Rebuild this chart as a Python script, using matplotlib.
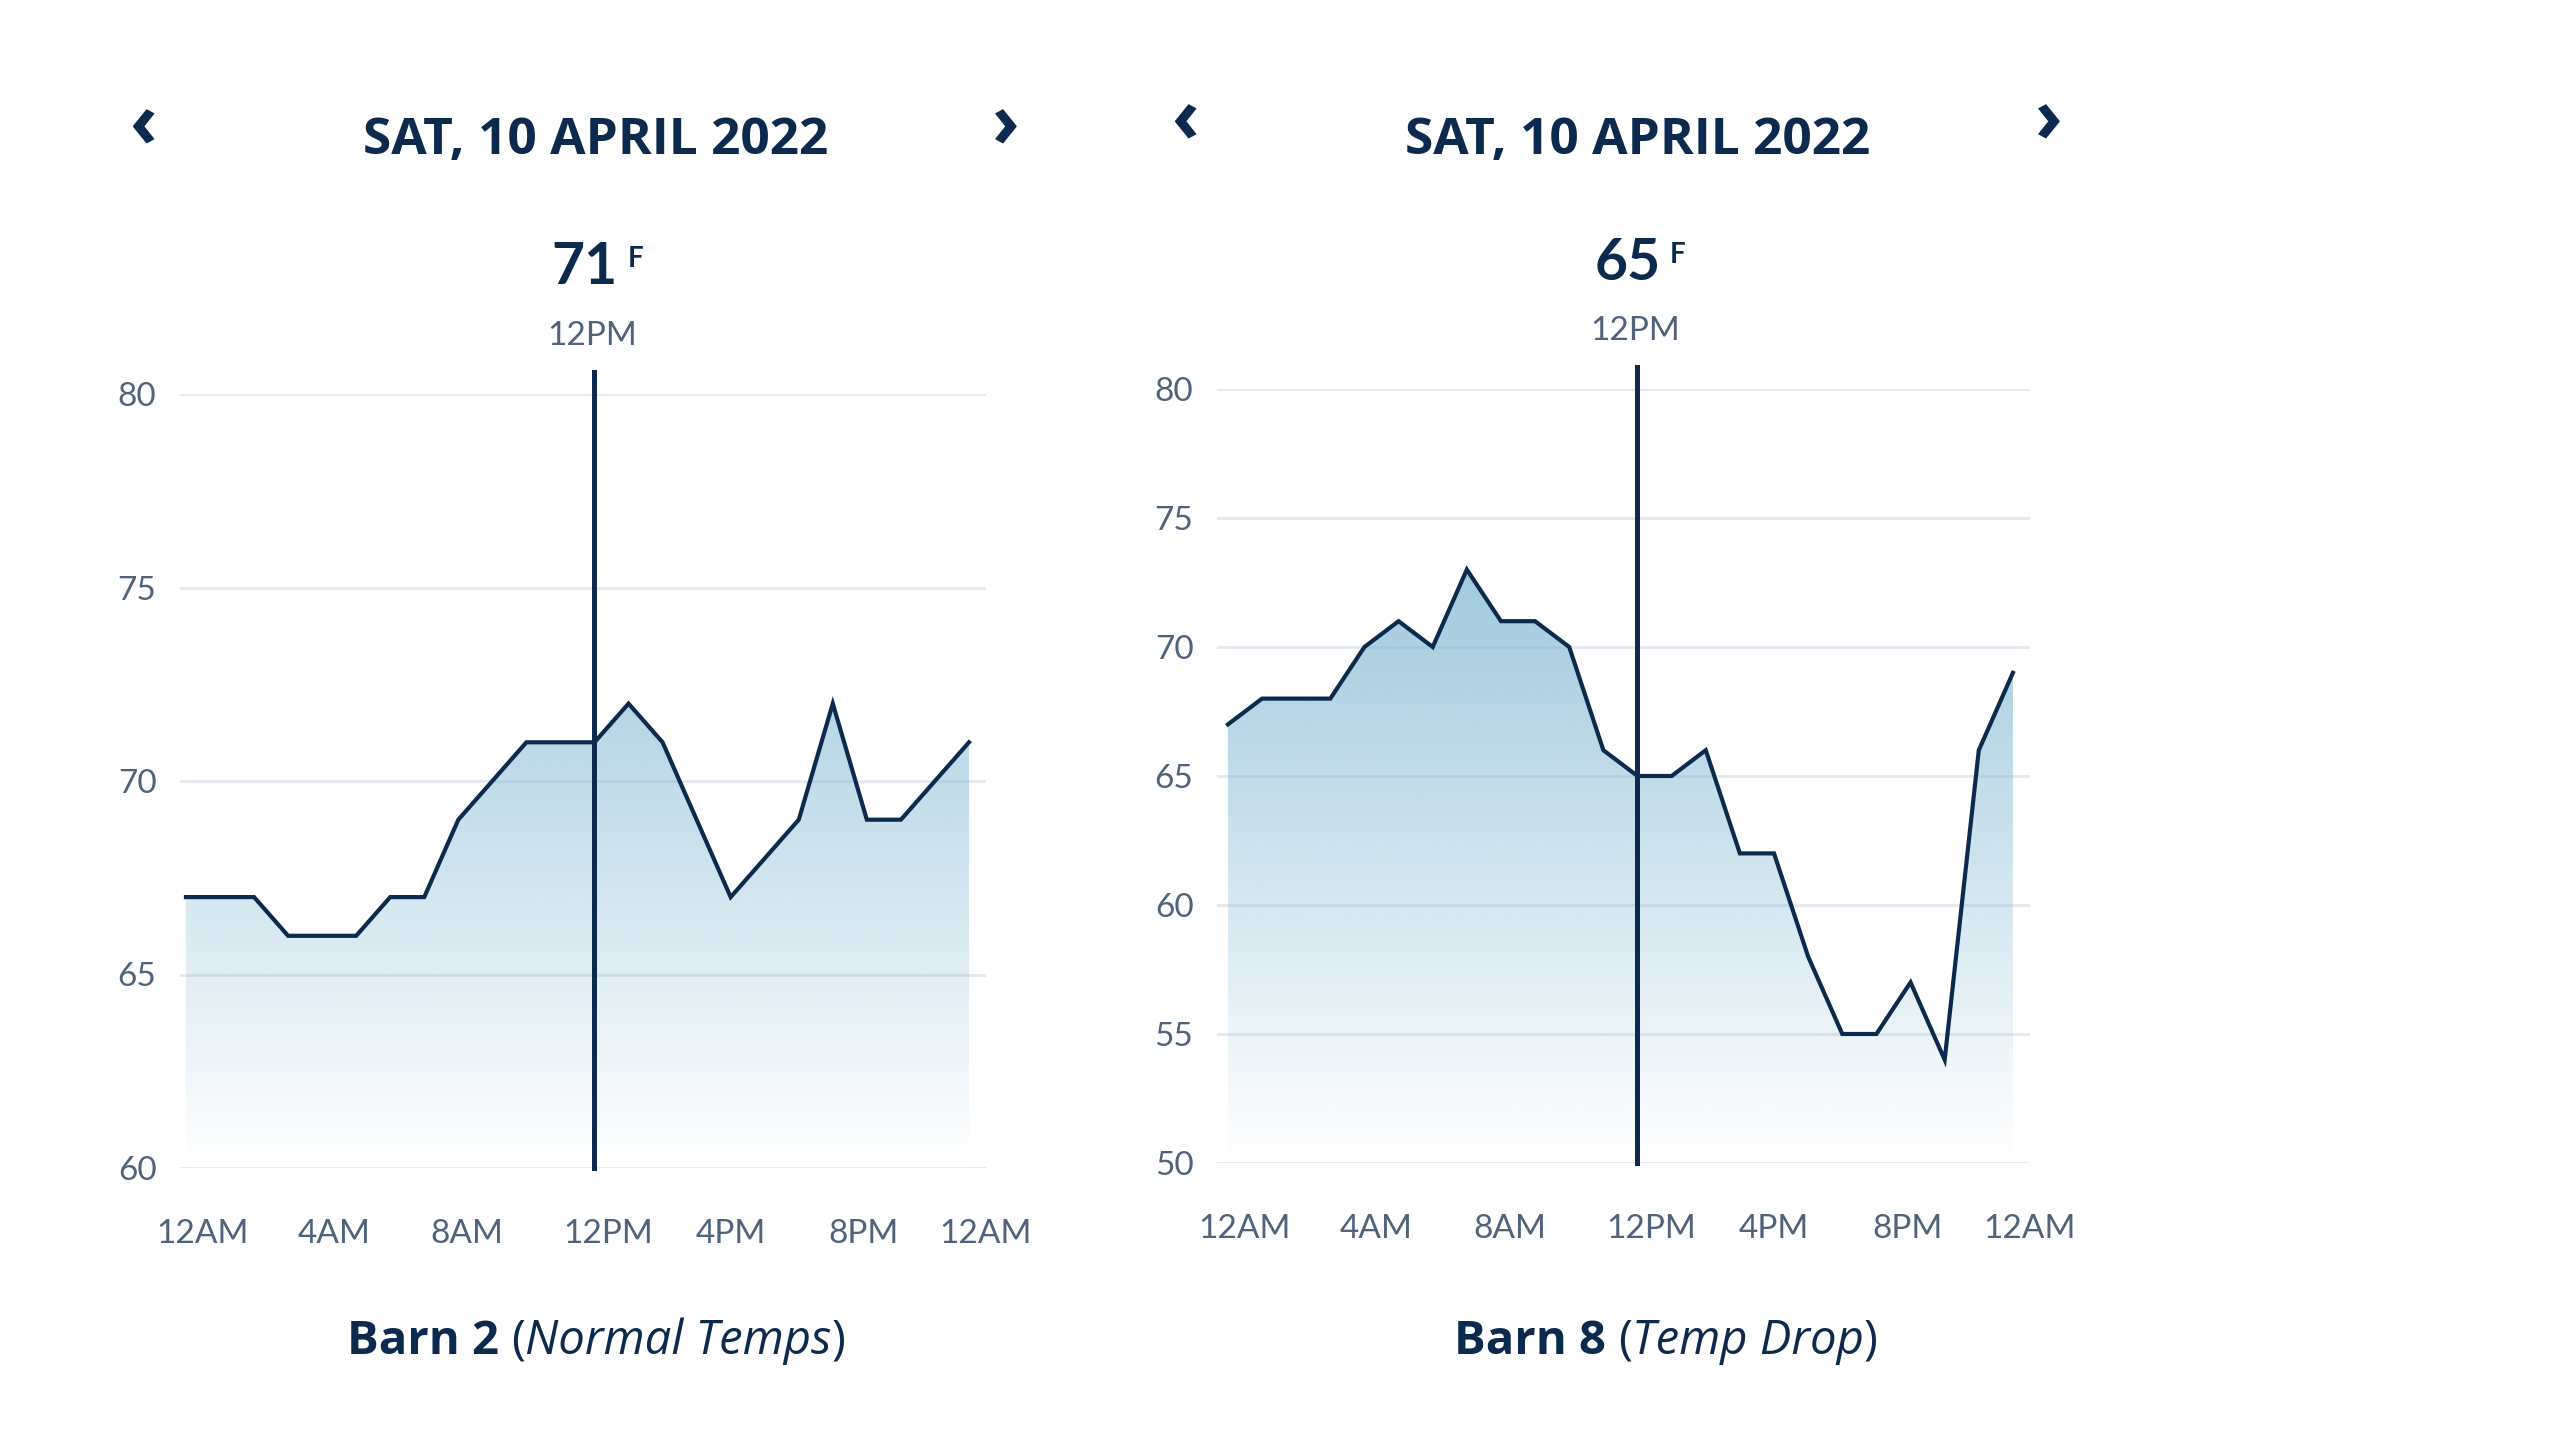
import numpy as np
import matplotlib.pyplot as plt
from matplotlib.colors import to_rgb
from matplotlib.patches import Polygon

# hourly readings
hours = list(range(24))
barn2_temps = [67, 67, 67, 66, 66, 66, 67, 67, 69, 70, 71, 71,
               71, 72, 71, 69, 67, 68, 69, 72, 69, 69, 70, 71]
barn8_temps = [67, 68, 68, 68, 70, 71, 70, 73, 71, 71, 70, 66,
               65, 65, 66, 62, 62, 58, 55, 55, 57, 54, 66, 69]
barn2_yticks = [60, 65, 70, 75, 80]
barn8_yticks = [50, 55, 60, 65, 70, 75, 80]
tick_pos = [0.5, 4.35, 8.25, 12.4, 16, 19.9, 23.5]
tick_labels = ['12AM', '4AM', '8AM', '12PM', '4PM', '8PM', '12AM']
date_title = 'SAT, 10 APRIL 2022'
selected_hour = 12
selected_label = '12PM'

NAVY = '#0c2a4e'
TICK = '#4f637d'
GRID = '#e4e8ef'
FILL = '#84b9d4'

W, H = 2560, 1440
fig = plt.figure(figsize=(25.6, 14.4), dpi=100)


def fx(x):
    return x / W


def fy(y):
    return 1 - y / H


def panel(rect_px, temps, yticks, xlim, cx, title_y, chev, val_xy, f_xy, lab_xy):
    x0, y0, x1, y1 = rect_px
    ax = fig.add_axes([fx(x0), fy(y1), fx(x1 - x0), (y1 - y0) / H])
    ylo, yhi = yticks[0], yticks[-1]

    # gradient fill under the line
    rgba = np.zeros((256, 1, 4))
    rgba[..., :3] = to_rgb(FILL)
    rgba[:, 0, 3] = np.linspace(0, 1, 256)
    im = ax.imshow(rgba, extent=[xlim[0], xlim[1], ylo, yhi], origin='lower',
                   aspect='auto', zorder=1, interpolation='bilinear')
    verts = [(hours[0], ylo)] + list(zip(hours, temps)) + [(hours[-1], ylo)]
    patch = Polygon(verts, closed=True, facecolor='none', edgecolor='none')
    ax.add_patch(patch)
    im.set_clip_path(patch)

    ax.plot(hours, temps, color=NAVY, lw=3, zorder=3, solid_joinstyle='miter')
    ax.axvline(selected_hour, ymin=0, ymax=1.029, color=NAVY, lw=3.6, clip_on=False, zorder=4)

    ax.set_xlim(*xlim)
    ax.set_ylim(ylo, yhi)
    ax.set_yticks(yticks)
    ax.set_xticks(tick_pos)
    ax.set_xticklabels(tick_labels)
    ax.grid(axis='y', color=GRID, lw=2, zorder=0)
    ax.set_axisbelow(True)
    for s in ax.spines.values():
        s.set_visible(False)
    ax.tick_params(axis='both', length=0, labelsize=24, labelcolor=TICK)
    ax.tick_params(axis='x', pad=37)
    ax.tick_params(axis='y', pad=17)
    for lab in ax.get_xticklabels() + ax.get_yticklabels():
        lab.set_family('Lato')

    # header
    fig.text(fx(cx), fy(title_y), date_title, ha='center', va='center', fontsize=37,
             fontweight='bold', family='Open Sans', color=NAVY)
    fig.text(fx(chev[0]), fy(chev[2]), '‹', ha='center', va='center', fontsize=54,
             fontweight='bold', family='Open Sans', color=NAVY)
    fig.text(fx(chev[1]), fy(chev[2]), '›', ha='center', va='center', fontsize=54,
             fontweight='bold', family='Open Sans', color=NAVY)
    fig.text(fx(val_xy[0]), fy(val_xy[1]), str(temps[selected_hour]), ha='center', va='center',
             fontsize=41, fontweight='bold', family='Lato', color=NAVY)
    fig.text(fx(f_xy[0]), fy(f_xy[1]), 'F', ha='center', va='center',
             fontsize=20, fontweight='bold', family='Lato', color=NAVY)
    fig.text(fx(lab_xy[0]), fy(lab_xy[1]), selected_label, ha='center', va='center',
             fontsize=24, family='Lato', color=TICK)
    return ax


def caption(cx, cy, parts):
    renderer = fig.canvas.get_renderer()
    texts = []
    for s, style, weight, gap in parts:
        t = fig.text(0, fy(cy), s, fontsize=34, fontstyle=style, fontweight=weight,
                     family='Open Sans', color=NAVY, va='center', ha='left')
        texts.append((t, gap))
    widths = [t.get_window_extent(renderer).width + g for t, g in texts]
    x = cx - sum(widths) / 2
    for (t, g), w in zip(texts, widths):
        t.set_x(fx(x))
        x += w


panel((180, 394, 986, 1168), barn2_temps, barn2_yticks, (-0.175, 23.2),
      596, 141, (144, 1006, 128), (585, 267), (636, 259), (592, 336))
panel((1217, 389, 2030, 1163), barn8_temps, barn8_yticks, (-0.32, 23.22),
      1638, 141, (1186, 2049, 123), (1628, 263), (1678, 255), (1635, 331))

caption(596, 1341, [('Barn 2', 'normal', 'bold', 12), ('(', 'normal', 'normal', 0),
                    ('Normal Temps', 'italic', 'normal', 0), (')', 'normal', 'normal', 0)])
caption(1666, 1341, [('Barn 8', 'normal', 'bold', 12), ('(', 'normal', 'normal', 0),
                     ('Temp Drop', 'italic', 'normal', 0), (')', 'normal', 'normal', 0)])

plt.savefig('out.png', dpi=100)
